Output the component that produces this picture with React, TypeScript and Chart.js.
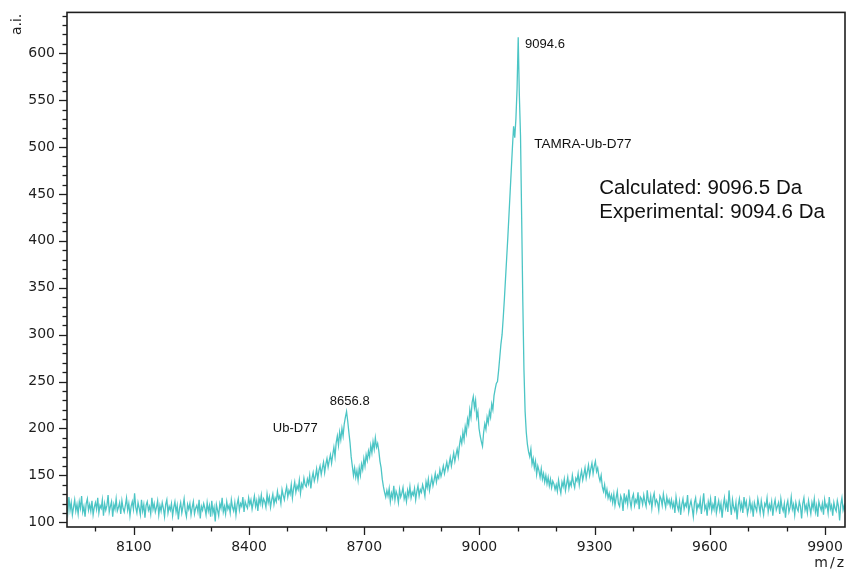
import React, { useEffect, useRef } from 'react';
import { Chart, registerables } from 'chart.js';

Chart.register(...registerables);

// m/z grid of the spectrum
const MZ_START = 7925;
const MZ_STEP = 3;

// Intensity (a.i.), segment by segment
const segBaselineLeft = [
  118, 110, 127, 113, 121, 108, 116, 124, 112, 119,
  109, 122, 115, 128, 111, 117, 106, 120, 125, 113,
  119, 112, 123, 108, 116, 121, 114, 126, 110, 118,
  115, 124, 107, 120, 113, 118, 129, 111, 117, 122,
  106, 119, 114, 125, 112, 116, 121, 109, 123, 115,
  111, 118, 126, 113, 120, 107, 117, 122, 114, 131,
  116, 110, 121, 115, 108, 124, 112, 119, 105, 118,
  122, 113, 117, 109, 126, 114, 120, 111, 116, 123,
  108, 118, 112, 121, 115, 106, 119, 124, 110, 117,
  113, 120, 107, 116, 122, 111, 118, 103, 115, 121,
  110, 117, 125, 112, 106, 119, 114, 120, 108, 116,
  122, 109, 115, 118, 111, 124, 104, 117, 113, 120,
  115, 108, 121, 112, 118, 106, 123, 110, 116, 101,
  119, 113, 107, 120, 115, 126, 111, 117, 109, 122,
  114, 118, 110, 124, 116, 112, 121, 108, 119, 125,
  113, 120, 117, 127, 111, 122, 118, 115, 126, 119,
  124, 114, 121, 128, 117, 123, 112, 126, 120, 129,
  118, 125, 122, 116, 130,
];
const segRise1 = [
  121, 127, 116, 124, 130, 119, 126, 122, 133, 125, 128, 120, 135, 129, 124, 132, 138,
  127, 134, 130, 140, 126, 136, 143, 132, 139, 135, 145, 131, 141, 137, 147, 140,
];
const segRise2 = [
  138, 146, 141, 150, 136, 147, 153, 144, 149, 157, 146, 155, 160, 151, 158, 164, 153,
  162, 168, 159, 166, 172, 163,
];
const segPeakUb = [172, 180, 170, 185, 192, 182, 196, 188, 200, 192, 205, 212, 218];
const segDropUb = [208, 196, 185, 170, 160, 150, 158, 148];
const segShoulderUb = [155, 145, 158, 150, 162, 156, 168, 160, 172, 166, 176, 170, 182, 174, 186, 178, 190, 180, 184];
const segDropShoulder = [176, 165, 158, 146, 138, 132, 127, 134];
const segValley = [
  128, 136, 122, 131, 126, 139, 124, 133, 129, 121, 135, 127, 131, 137, 125,
  130, 122, 134, 128, 138, 126, 132, 129, 136, 124, 133, 139, 128, 135,
];
const segRise3 = [
  132, 140, 135, 128, 143, 137, 146, 134, 141, 148, 139, 145, 152, 143, 150, 147, 156,
  149, 154, 160, 152, 158, 164, 156, 162, 169, 160, 167, 174, 165, 172, 178, 170,
];
const segPeak8980 = [182, 190, 184, 196, 188, 202, 195, 210, 204, 220, 212, 228, 234];
const segDip9005 = [222, 230, 212, 218, 200, 192, 186, 181];
const segRise4 = [196, 205, 199, 212, 206, 218, 212, 226, 220, 235, 242, 248];
const segMainRise = [250, 262, 276, 290, 300, 318, 338, 360, 382, 404, 428, 452, 476, 500, 522, 510, 530, 562, 617];
const segMainDrop = [555, 512, 425, 335, 262, 218, 196];
const segTail = [
  183, 175, 170, 178, 162, 168, 158, 165, 151, 160, 155, 148, 157,
  146, 152, 143, 150, 141, 148, 139, 146, 137, 144, 141, 135,
];
const segBump9300 = [
  140, 133, 145, 137, 131, 143, 138, 146, 134, 141, 148, 136, 143, 139, 150, 142, 137,
  147, 144, 152, 140, 149, 155, 145, 151, 158, 147, 154, 161, 150, 157, 163, 152, 160,
];
const segDrop9300 = [165, 154, 158, 149, 144, 150, 138, 133, 140, 129, 135, 126, 131, 124, 129];
const segBaselineMid = [
  121, 130, 118, 126, 133, 120, 117, 128, 124, 112,
  131, 122, 127, 119, 135, 123, 116, 126, 130, 118,
  124, 121, 132, 114, 127, 125, 119, 129, 122, 117,
  134, 123, 120, 128, 115, 126, 131, 119, 124, 121,
  113, 128, 125, 118, 130, 122, 116, 127, 120, 124,
  117,
];
const segBaselineRight = [
  124, 116, 121, 110, 127, 118, 113, 122, 108, 119,
  125, 114, 120, 117, 129, 111, 118, 123, 115, 106,
  121, 126, 112, 119, 116, 124, 109, 120, 131, 114,
  118, 107, 122, 116, 125, 112, 119, 114, 128, 110,
  117, 123, 113, 120, 105, 118, 126, 115, 121, 111,
  134, 119, 108, 124, 116, 112, 121, 103, 118, 125,
  114, 120, 110, 127, 117, 122, 109, 115, 124, 113,
  119, 106, 121, 116, 112, 125, 118, 110, 123, 115,
  108, 120, 117, 126, 111, 119, 114, 122, 107, 118,
  124, 113, 117, 121, 109, 125, 116, 112, 120, 105,
  118, 123, 111, 116, 127, 114, 119, 108, 121, 115,
  112, 122, 117, 104, 120, 126, 113, 118, 110, 123,
  116, 109, 121, 115, 125, 111, 118, 106, 122, 117,
  113, 120, 108, 124, 116, 119, 110, 127, 114, 118,
  107, 121, 115, 112, 123, 117, 102, 119, 126, 113,
  118, 111,
];

const INTENSITY = [
  ...segBaselineLeft, ...segRise1, ...segRise2, ...segPeakUb, ...segDropUb,
  ...segShoulderUb, ...segDropShoulder, ...segValley, ...segRise3, ...segPeak8980,
  ...segDip9005, ...segRise4, ...segMainRise, ...segMainDrop, ...segTail,
  ...segBump9300, ...segDrop9300, ...segBaselineMid, ...segBaselineRight,
];
const MZ = INTENSITY.map((_, i) => MZ_START + i * MZ_STEP);

// Axis ranges and ticks
const X_MIN = 7926;
const X_MAX = 9952;
const X_MINOR_STEP = 100;
const X_LABEL_EVERY = 300;
const X_LABEL_ORIGIN = 8100;
const Y_MIN = 95;
const Y_MAX = 643.5;
const Y_MINOR_STEP = 10;
const Y_LABEL_EVERY = 50;

const X_TITLE = 'm/z';
const Y_TITLE = 'a.i.';

// Annotations anchored in data units (left edge, vertical centre)
const ANNOTATIONS = [
  { text: '9094.6', mz: 9119, ai: 609.5, size: 13 },
  { text: 'TAMRA-Ub-D77', mz: 9143, ai: 503.4, size: 13.5 },
  { text: '8656.8', mz: 8610.5, ai: 228.5, size: 13 },
  { text: 'Ub-D77', mz: 8462, ai: 199.8, size: 13 },
  { text: 'Calculated: 9096.5 Da', mz: 9312, ai: 455.6, size: 20.5 },
  { text: 'Experimental: 9094.6 Da', mz: 9312, ai: 430, size: 20.5 },
];

const LINE_COLOR = '#4cc5c5';
const INK = '#1e1e1e';
const TICK_FONT = '"DejaVu Sans", sans-serif';
const ANNO_FONT = '"Liberation Sans", Arial, sans-serif';

const isMultiple = (v: number, step: number, origin = 0) =>
  Math.abs(((Math.round(v - origin) % step) + step) % step) < 0.5;

const framePlugin = {
  id: 'framePlugin',
  afterDraw(chart: any) {
    const { ctx, chartArea } = chart;
    const xs = chart.scales.x;
    const ys = chart.scales.y;
    const { left, right, top, bottom } = chartArea;
    ctx.save();
    // ticks
    ctx.strokeStyle = INK;
    ctx.lineWidth = 1.3;
    ys.ticks.forEach((t: any) => {
      const y = Math.round(ys.getPixelForValue(t.value)) + 0.5;
      const len = isMultiple(t.value, Y_LABEL_EVERY) ? 8 : 4.5;
      ctx.beginPath();
      ctx.moveTo(left - len, y);
      ctx.lineTo(left, y);
      ctx.stroke();
    });
    xs.ticks.forEach((t: any) => {
      const x = Math.round(xs.getPixelForValue(t.value)) + 0.5;
      const len = isMultiple(t.value, X_LABEL_EVERY, X_LABEL_ORIGIN) ? 8 : 4.5;
      ctx.beginPath();
      ctx.moveTo(x, bottom);
      ctx.lineTo(x, bottom + len);
      ctx.stroke();
    });
    // frame
    ctx.lineWidth = 1.6;
    ctx.strokeRect(left, top, right - left, bottom - top);

    // axis titles
    ctx.fillStyle = INK;
    ctx.font = `14px ${TICK_FONT}`;
    ctx.save();
    ctx.translate(17, top + 12);
    ctx.rotate(-Math.PI / 2);
    ctx.textAlign = 'center';
    ctx.textBaseline = 'middle';
    ctx.fillText(Y_TITLE, 0, 0);
    ctx.restore();
    ctx.save();
    (ctx as any).letterSpacing = '2px';
    ctx.textAlign = 'right';
    ctx.textBaseline = 'middle';
    ctx.fillText(X_TITLE, right + 1, bottom + 36);
    ctx.restore();

    // annotations
    ctx.fillStyle = '#111';
    ctx.textAlign = 'left';
    ctx.textBaseline = 'middle';
    ANNOTATIONS.forEach((a) => {
      ctx.font = `${a.size}px ${ANNO_FONT}`;
      ctx.fillText(a.text, xs.getPixelForValue(a.mz), ys.getPixelForValue(a.ai));
    });
    ctx.restore();
  },
};

export default function App() {
  const canvasRef = useRef<HTMLCanvasElement | null>(null);

  useEffect(() => {
    if (!canvasRef.current) return;
    const chart = new Chart(canvasRef.current, {
      type: 'line',
      data: {
        datasets: [
          {
            data: MZ.map((x, i) => ({ x, y: INTENSITY[i] })),
            borderColor: LINE_COLOR,
            borderWidth: 1.3,
            pointRadius: 0,
            tension: 0,
            fill: false,
          },
        ],
      },
      options: {
        animation: false,
        responsive: false,
        maintainAspectRatio: false,
        parsing: false,
        normalized: true,
        layout: { padding: { left: 0, top: 11, right: 2, bottom: 0 } },
        plugins: { legend: { display: false }, tooltip: { enabled: false } },
        scales: {
          x: {
            type: 'linear',
            min: X_MIN,
            max: X_MAX,
            afterFit: (scale: any) => {
              scale.height = 44;
            },
            grid: {
              display: true,
              drawOnChartArea: false,
              drawTicks: true,
              tickLength: 8,
              color: 'rgba(0,0,0,0)',
            },
            border: { display: false },
            ticks: {
              stepSize: X_MINOR_STEP,
              includeBounds: false,
              autoSkip: false,
              maxRotation: 0,
              padding: 4,
              color: INK,
              font: { family: TICK_FONT, size: 14 },
              callback: (v: any) =>
                isMultiple(Number(v), X_LABEL_EVERY, X_LABEL_ORIGIN) ? String(Math.round(Number(v))) : '',
            },
          },
          y: {
            type: 'linear',
            min: Y_MIN,
            max: Y_MAX,
            afterFit: (scale: any) => {
              scale.width = 67;
            },
            grid: {
              display: true,
              drawOnChartArea: false,
              drawTicks: true,
              tickLength: 8,
              color: 'rgba(0,0,0,0)',
            },
            border: { display: false },
            ticks: {
              stepSize: Y_MINOR_STEP,
              includeBounds: false,
              autoSkip: false,
              padding: 4,
              color: INK,
              font: { family: TICK_FONT, size: 14 },
              callback: (v: any) =>
                isMultiple(Number(v), Y_LABEL_EVERY) ? String(Math.round(Number(v))) : '',
            },
          },
        },
      },
      plugins: [framePlugin],
    });
    return () => chart.destroy();
  }, []);

  return (
    <div style={{ position: 'fixed', left: 0, top: 0, width: 847, height: 571, background: '#fff' }}>
      <canvas ref={canvasRef} width={847} height={571} style={{ display: 'block' }} />
    </div>
  );
}
